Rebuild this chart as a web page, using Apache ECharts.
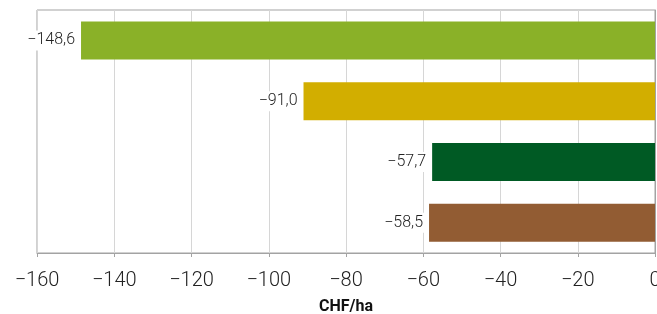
<!DOCTYPE html>
<html>
<head>
<meta charset="UTF-8">
<title>CHF/ha</title>
<script src="https://cdn.jsdelivr.net/npm/echarts@6/dist/echarts.min.js"></script>
<style>
  html, body { margin: 0; padding: 0; background: #fff; }
</style>
</head>
<body>
	<div id="main" style="width: 657px; height: 314px;"></div>
	<script type="text/javascript">
		// data
		var categories = ['A', 'B', 'C', 'D'];
		var values = [-148.6, -91.0, -57.7, -58.5];
		var barColors = ['#8AB128', '#D2AE00', '#005A24', '#925C33'];
		var xMin = -160, xMax = 0, xStep = 20;

		function fmtNum(v, dec) {
			var s = Math.abs(v).toFixed(dec).replace('.', ',');
			return (v < 0 ? '\u2212' : '') + s;
		}

		var myChart = echarts.init(document.getElementById('main'));
		var option = {
			animation: false,
			textStyle: { fontFamily: 'Roboto' },
			grid: {
				left: 37, right: 2, top: 10, bottom: 61,
				outerBoundsMode: 'none',
				containLabel: false,
				show: true,
				borderColor: '#a3a3a3',
				borderWidth: 1
			},
			xAxis: {
				type: 'value',
				min: xMin, max: xMax, interval: xStep,
				name: 'CHF/ha',
				nameLocation: 'middle',
				nameGap: 46,
				nameTextStyle: { fontSize: 16, fontWeight: 'bold', color: '#111' },
				axisLine: { show: true, lineStyle: { color: '#a3a3a3', width: 1 } },
				axisTick: { show: true, length: 4, lineStyle: { color: '#a3a3a3' } },
				axisLabel: {
					fontSize: 20, fontWeight: 300, color: '#222', margin: 18,
					formatter: function (v) { return fmtNum(v, 0); }
				},
				splitLine: { show: true, lineStyle: { color: '#d6d6d6', width: 1 } }
			},
			yAxis: {
				type: 'category',
				data: categories,
				inverse: true,
				axisLine: { show: true, lineStyle: { color: '#a3a3a3', width: 1 } },
				axisTick: { show: false },
				axisLabel: { show: false },
				splitLine: { show: false }
			},
			series: [{
				type: 'bar',
				barWidth: 38,
				data: values.map(function (v, i) {
					return { value: v, itemStyle: { color: barColors[i] } };
				}),
				label: {
					show: true,
					position: 'left',
					distance: 5,
					fontSize: 16,
					fontWeight: 300,
					color: '#222',
					backgroundColor: '#fff',
					padding: [2, 1],
					formatter: function (p) { return fmtNum(p.value, 1); }
				}
			}]
		};
		myChart.setOption(option);
	</script>
</body>
</html>
